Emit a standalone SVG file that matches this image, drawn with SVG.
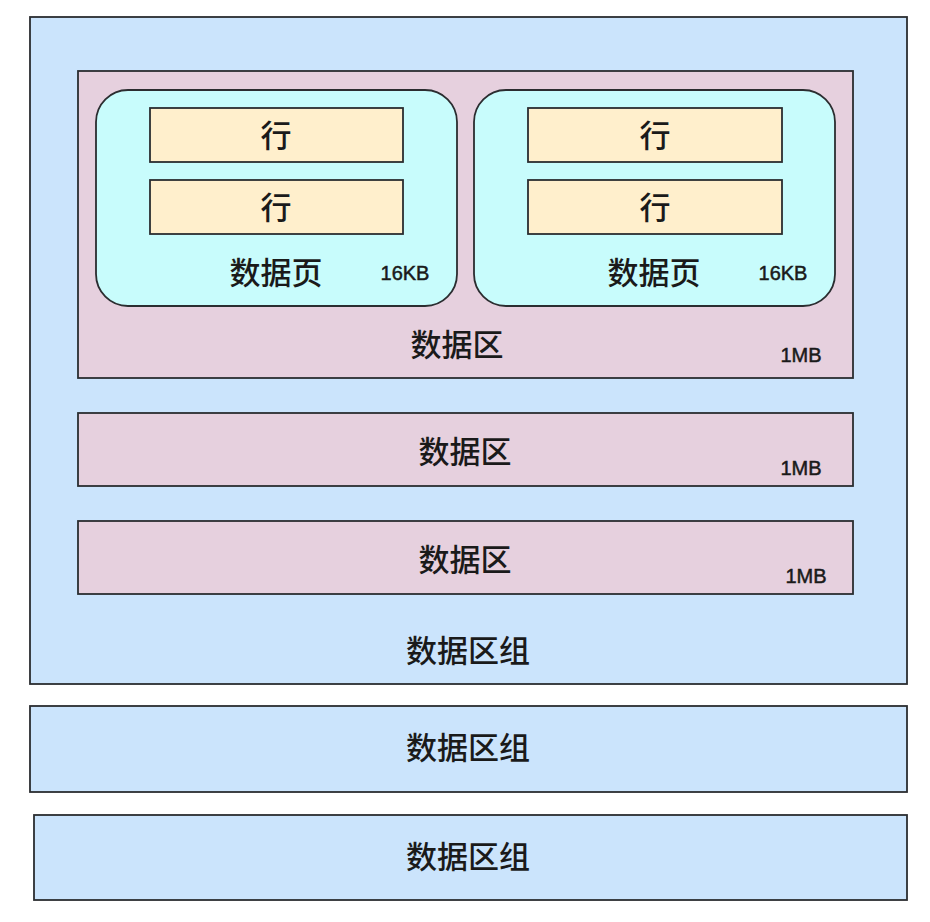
<svg xmlns="http://www.w3.org/2000/svg" width="930" height="922" viewBox="0 0 930 922">
<style>
.grp{fill:#cbe4fc;stroke:#2b2d30;stroke-width:1.8}
.area{fill:#e6d0de;stroke:#2b2d30;stroke-width:1.8}
.page{fill:#c8fcfc;stroke:#2b2d30;stroke-width:1.8}
.row{fill:#ffefcc;stroke:#2b2d30;stroke-width:1.8}
.cn{font-family:"Noto Sans CJK SC","Liberation Sans",sans-serif;font-size:31px;font-weight:500;fill:#1a1a1a;text-anchor:middle;dominant-baseline:central}
.sz{font-family:"Liberation Sans","Noto Sans CJK SC",sans-serif;font-size:20px;fill:#1a1a1a;stroke:#1a1a1a;stroke-width:0.5;text-anchor:middle;dominant-baseline:central}
</style>
<rect width="930" height="922" fill="#ffffff"/>
<g id="group1">
<rect class="grp" x="30" y="17" width="877" height="667"/>
<text class="cn" x="468" y="648">数据区组</text>
</g>
<g id="area1">
<rect class="area" x="78" y="71" width="775" height="307"/>
<text class="cn" x="457" y="342">数据区</text>
<text class="sz" x="801" y="355">1MB</text>
</g>
<g id="page1">
<rect class="page" x="96" y="90" width="361" height="216" rx="32" ry="32"/>
<text class="cn" x="276" y="270">数据页</text>
<text class="sz" x="405" y="273">16KB</text>
</g>
<g id="row1a">
<rect class="row" x="150" y="108" width="253" height="54"/>
<text class="cn" x="276" y="133">行</text>
</g>
<g id="row1b">
<rect class="row" x="150" y="180" width="253" height="54"/>
<text class="cn" x="276" y="205">行</text>
</g>
<g id="page2">
<rect class="page" x="474" y="90" width="361" height="216" rx="32" ry="32"/>
<text class="cn" x="654" y="270">数据页</text>
<text class="sz" x="783" y="273">16KB</text>
</g>
<g id="row2a">
<rect class="row" x="528" y="108" width="254" height="54"/>
<text class="cn" x="655" y="133">行</text>
</g>
<g id="row2b">
<rect class="row" x="528" y="180" width="254" height="54"/>
<text class="cn" x="655" y="205">行</text>
</g>
<g id="area2">
<rect class="area" x="78" y="413" width="775" height="73"/>
<text class="cn" x="465" y="449">数据区</text>
<text class="sz" x="801" y="468">1MB</text>
</g>
<g id="area3">
<rect class="area" x="78" y="521" width="775" height="73"/>
<text class="cn" x="465" y="557">数据区</text>
<text class="sz" x="806" y="576">1MB</text>
</g>
<g id="group2">
<rect class="grp" x="30" y="706" width="877" height="86"/>
<text class="cn" x="468" y="745">数据区组</text>
</g>
<g id="group3">
<rect class="grp" x="34" y="815" width="873" height="85"/>
<text class="cn" x="468" y="854">数据区组</text>
</g>
<g id="connectors"/>
</svg>
